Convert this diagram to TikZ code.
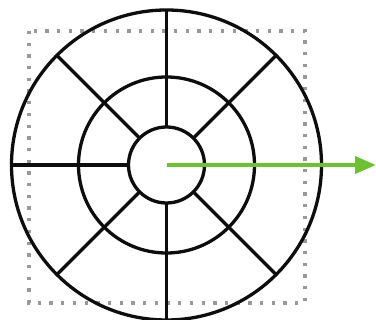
\documentclass[tikz,border=0pt]{standalone}
\usetikzlibrary{arrows.meta,calc}
\definecolor{arrowgreen}{HTML}{6CC22E}
\tikzset{
  ring/.style={draw=black!95, line width=3.3pt},
  spoke/.style={draw=black!95, line width=3.3pt},
  dotbox/.style={draw=black!40, line width=3.3pt, dash pattern=on 3.3pt off 8.4pt},
  greenarrow/.style={draw=arrowgreen, line width=4pt, -{Triangle[length=21pt,width=17pt]}}
}
\begin{document}
\begin{tikzpicture}[x=1pt,y=-1pt]
\useasboundingbox (0,0) rectangle (376,320);
\coordinate (c) at (166.5,165);
\coordinate (e) at (376,165);
% dotted square
\draw[dotbox] (29,31) rectangle (305,303);
% rings
\draw[ring] (c) circle (155);
\draw[ring] (c) circle (88);
\draw[ring] (c) circle (38);
% spokes
\foreach \a in {45,90,135,180,225,270,315}
  \draw[spoke] ($(c)+(\a:38)$) -- ($(c)+(\a:155)$);
% arrow
\draw[greenarrow] (c) -- (e);
\end{tikzpicture}
\end{document}
